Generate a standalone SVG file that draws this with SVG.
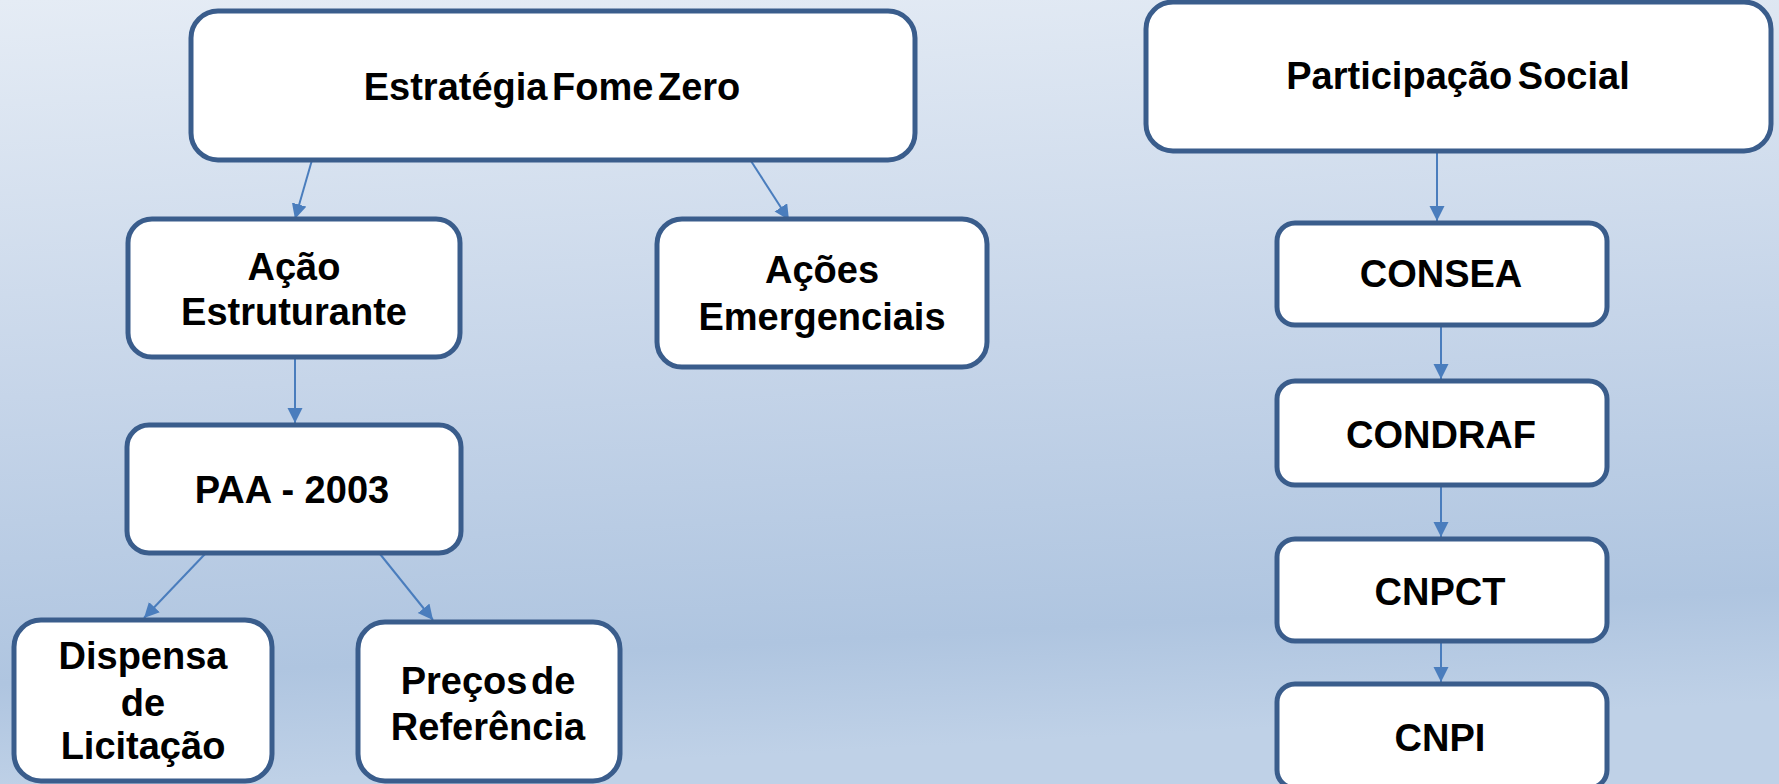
<svg xmlns="http://www.w3.org/2000/svg" width="1779" height="784" viewBox="0 0 1779 784">
  <defs>
    <linearGradient id="bg" x1="0" y1="0" x2="0.12" y2="1">
      <stop offset="0" stop-color="#e5ecf5"/>
      <stop offset="0.5" stop-color="#c6d5e9"/>
      <stop offset="0.86" stop-color="#afc5e0"/>
      <stop offset="1" stop-color="#bfd1e7"/>
    </linearGradient>
    <marker id="ah" markerUnits="userSpaceOnUse" markerWidth="16" markerHeight="16" refX="15" refY="7.5" orient="auto">
      <path d="M0,0 L15,7.5 L0,15 z" fill="#4a7dbd"/>
    </marker>
    <style>
      .box { fill: #ffffff; stroke: #3a5d8c; stroke-width: 5; }
      .lbl { font-family: "Liberation Sans", Arial, sans-serif; font-weight: bold; font-size: 38px; fill: #000000; text-anchor: middle; }
      .con { stroke: #4a7dbd; stroke-width: 2; fill: none; marker-end: url(#ah); }
    </style>
  </defs>
  <rect x="0" y="0" width="1779" height="784" fill="url(#bg)"/>

  <g id="connectors">
    <line class="con" x1="312" y1="160" x2="295" y2="219"/>
    <line class="con" x1="751" y1="161" x2="789" y2="220"/>
    <line class="con" x1="295" y1="357" x2="295" y2="423"/>
    <line class="con" x1="205" y1="554" x2="144" y2="618"/>
    <line class="con" x1="380" y1="554" x2="433" y2="620"/>
    <line class="con" x1="1437" y1="152" x2="1437" y2="221"/>
    <line class="con" x1="1441" y1="325" x2="1441" y2="379"/>
    <line class="con" x1="1441" y1="485" x2="1441" y2="537"/>
    <line class="con" x1="1441" y1="641" x2="1441" y2="682"/>
  </g>

  <g id="node-estrategia">
    <rect class="box" x="191" y="11" width="724" height="149" rx="27"/>
    <text class="lbl" x="552" y="100" word-spacing="-6">Estratégia Fome Zero</text>
  </g>
  <g id="node-participacao">
    <rect class="box" x="1146" y="2" width="625" height="149" rx="27"/>
    <text class="lbl" x="1458" y="89" word-spacing="-5">Participação Social</text>
  </g>
  <g id="node-acao-estruturante">
    <rect class="box" x="128" y="219" width="332" height="138" rx="24"/>
    <text class="lbl" x="294" y="280">Ação</text>
    <text class="lbl" x="294" y="325">Estruturante</text>
  </g>
  <g id="node-acoes-emergenciais">
    <rect class="box" x="657" y="219" width="330" height="148" rx="25"/>
    <text class="lbl" x="822" y="283">Ações</text>
    <text class="lbl" x="822" y="330">Emergenciais</text>
  </g>
  <g id="node-paa">
    <rect class="box" x="127" y="425" width="334" height="128" rx="22"/>
    <text class="lbl" x="292" y="503">PAA - 2003</text>
  </g>
  <g id="node-dispensa">
    <rect class="box" x="14" y="620" width="258" height="161" rx="27"/>
    <text class="lbl" x="143" y="669">Dispensa</text>
    <text class="lbl" x="143" y="716">de</text>
    <text class="lbl" x="143" y="759">Licitação</text>
  </g>
  <g id="node-precos">
    <rect class="box" x="358" y="622" width="262" height="159" rx="27"/>
    <text class="lbl" x="488" y="694" word-spacing="-7">Preços de</text>
    <text class="lbl" x="488" y="740">Referência</text>
  </g>
  <g id="node-consea">
    <rect class="box" x="1277" y="223" width="330" height="102" rx="18"/>
    <text class="lbl" x="1441" y="287">CONSEA</text>
  </g>
  <g id="node-condraf">
    <rect class="box" x="1277" y="381" width="330" height="104" rx="18"/>
    <text class="lbl" x="1441" y="448">CONDRAF</text>
  </g>
  <g id="node-cnpct">
    <rect class="box" x="1277" y="539" width="330" height="102" rx="18"/>
    <text class="lbl" x="1440" y="605">CNPCT</text>
  </g>
  <g id="node-cnpi">
    <rect class="box" x="1277" y="684" width="330" height="104" rx="18"/>
    <text class="lbl" x="1440" y="751">CNPI</text>
  </g>
</svg>
